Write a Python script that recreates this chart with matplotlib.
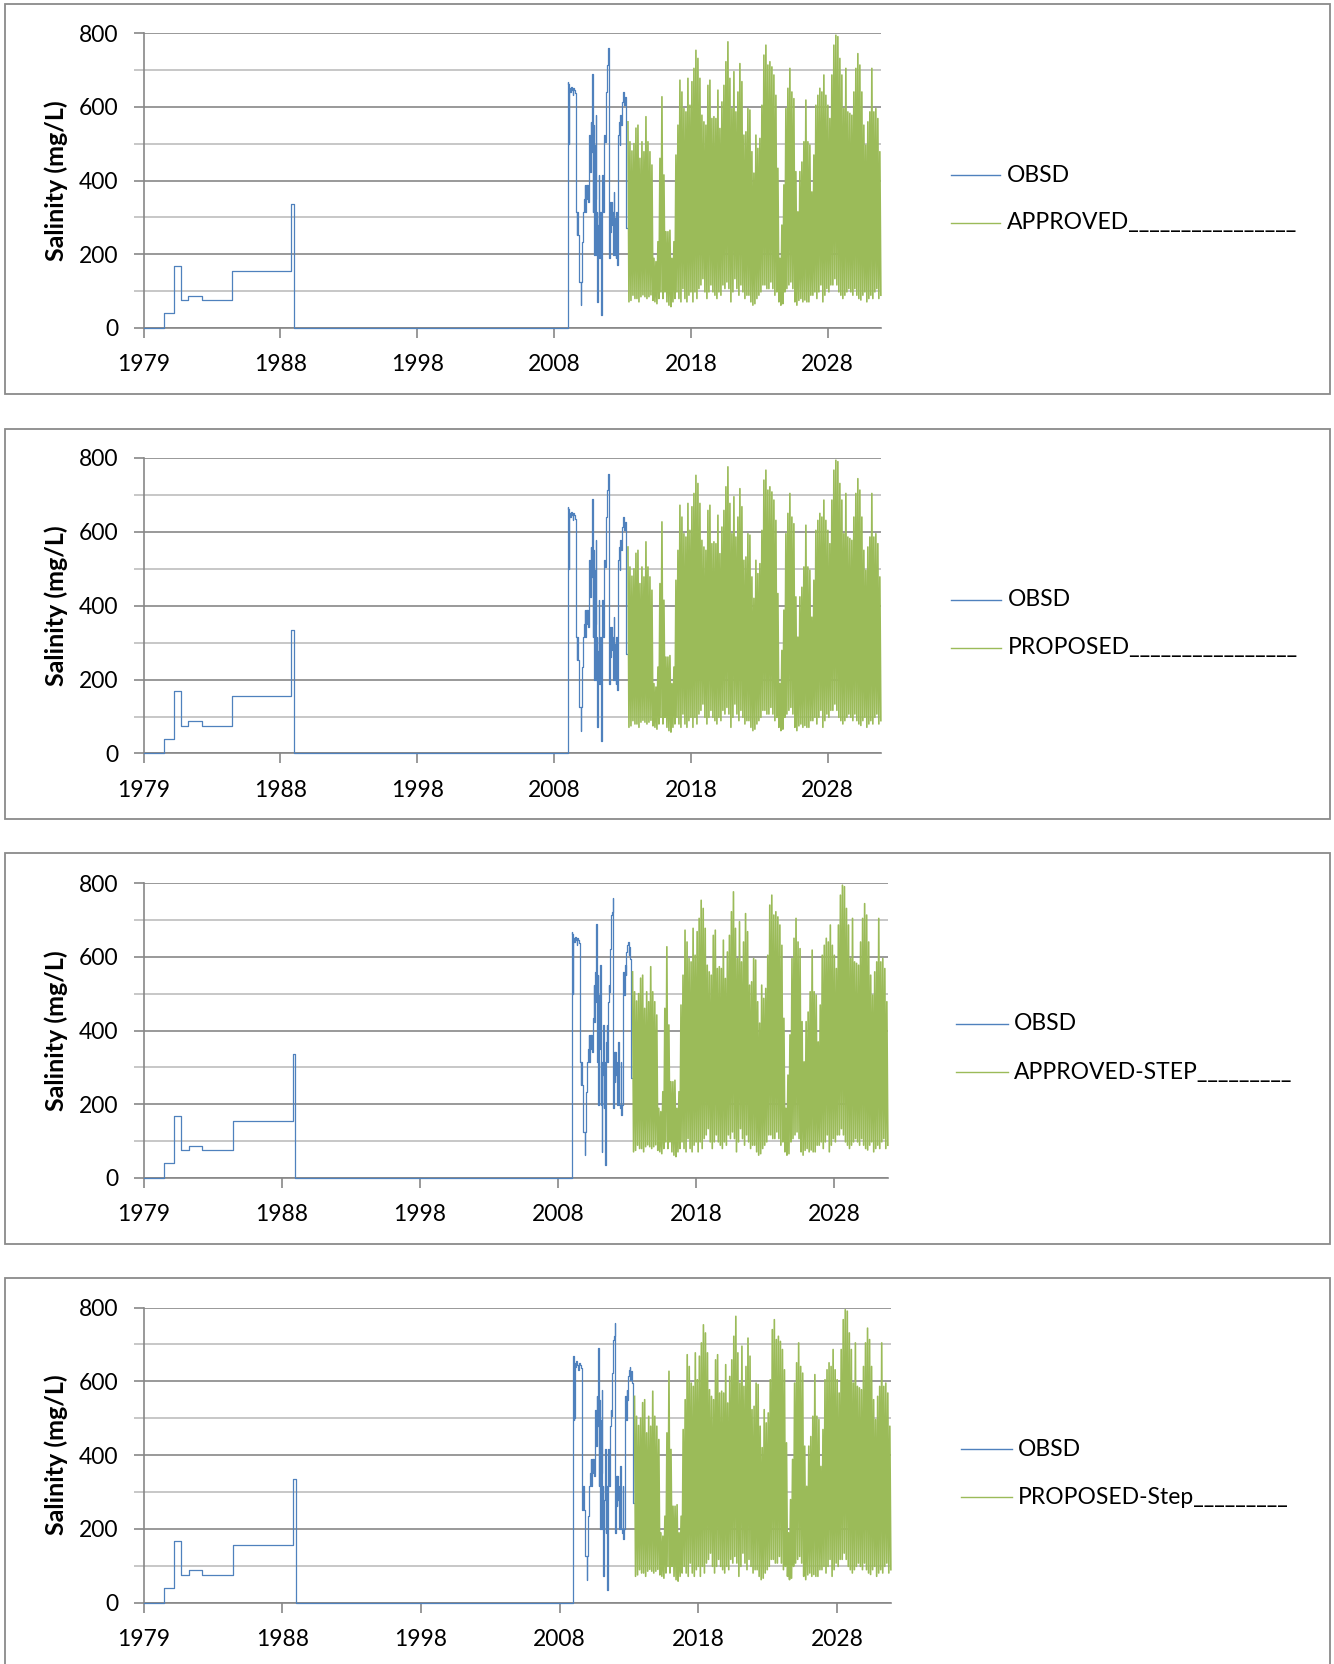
import matplotlib
matplotlib.use("Agg")
import matplotlib.pyplot as plt
from matplotlib.lines import Line2D
from matplotlib.patches import Rectangle

plt.rcParams['font.family'] = ['Lato', 'DejaVu Sans']

# ---------------- data ----------------
x_tick_labels = ["1979", "1988", "1998", "2008", "2018", "2028"]
x_tick_interval = 3650 / 365.25      # Excel date axis: major unit 3650 days
x_start = 1979.0
x_end = 2032.86
y_major_ticks = [0, 200, 400, 600, 800]
y_minor_ticks = [100, 300, 500, 700]

# observed salinity (step series)
obsd_years = [
    1979.00, 1980.50, 1981.22, 1981.71, 1982.27, 1983.25, 1985.47, 1989.78, 1989.97,
    2009.97, 2010.00, 2010.02, 2010.05, 2010.07, 2010.12, 2010.19, 2010.27, 2010.34,
    2010.39, 2010.46, 2010.53, 2010.56, 2010.61, 2010.63, 2010.68, 2010.73, 2010.78,
    2010.83, 2010.87, 2010.92, 2010.97, 2011.02, 2011.09, 2011.17, 2011.22, 2011.26,
    2011.31, 2011.36, 2011.41, 2011.46, 2011.51, 2011.56, 2011.60, 2011.65, 2011.70,
    2011.75, 2011.77, 2011.80, 2011.85, 2011.90, 2011.95, 2011.99, 2012.02, 2012.07,
    2012.12, 2012.14, 2012.19, 2012.24, 2012.29, 2012.33, 2012.38, 2012.41, 2012.46,
    2012.50, 2012.55, 2012.60, 2012.65, 2012.70, 2012.75, 2012.80, 2012.85, 2012.89,
    2012.94, 2012.99, 2013.04, 2013.09, 2013.14, 2013.19, 2013.23, 2013.28, 2013.33,
    2013.38, 2013.43, 2013.48, 2013.53, 2013.58, 2013.62, 2013.67, 2013.72, 2013.77,
    2013.82, 2013.87, 2013.94, 2013.99, 2014.04, 2014.09, 2014.14, 2014.21, 2014.26,
    2014.40,
]
obsd_values = [
    0, 40, 168, 75, 87, 75, 155, 335, 0,
    668, 496, 663, 500, 650, 640, 654, 645, 631,
    650, 645, 636, 369, 315, 252, 315, 252, 220,
    126, 126, 62, 126, 234, 315, 351, 388, 315,
    388, 351, 388, 342, 433, 523, 424, 559, 478,
    550, 690, 315, 550, 198, 496, 351, 577, 198,
    315, 71, 278, 415, 189, 315, 198, 35, 369,
    415, 315, 478, 523, 505, 622, 640, 713, 722,
    758, 189, 342, 261, 342, 279, 315, 198, 369,
    297, 198, 189, 315, 171, 198, 523, 559, 496,
    577, 550, 613, 631, 640, 604, 627, 595, 270,
    270,
]

# simulated scenario salinity (same in all four panels), sampled every ~27 days
scenario_start = 2014.38
scenario_step = 0.073
scenario_values = [
    559, 71, 505, 75, 480, 89, 500, 80, 542, 80, 550, 71, 460, 85, 505, 90,
    478, 85, 573, 80, 505, 85, 478, 90, 442, 75, 189, 71, 180, 66, 234, 80,
    460, 98, 627, 80, 415, 98, 261, 71, 261, 62, 265, 58, 189, 71, 234, 80,
    469, 98, 550, 80, 672, 71, 640, 107, 595, 80, 586, 71, 677, 89, 604, 98,
    668, 71, 704, 98, 753, 80, 731, 107, 677, 117, 577, 134, 559, 98, 550, 80,
    658, 98, 672, 117, 568, 98, 573, 89, 568, 80, 645, 98, 541, 89, 613, 117,
    658, 107, 722, 125, 776, 107, 677, 71, 595, 98, 695, 134, 586, 107, 640, 89,
    717, 117, 668, 98, 523, 80, 532, 89, 595, 89, 591, 71, 478, 62, 420, 66,
    523, 80, 487, 89, 514, 98, 604, 117, 740, 117, 767, 107, 713, 107, 722, 125,
    708, 107, 686, 89, 631, 98, 433, 71, 189, 62, 279, 66, 388, 98, 595, 107,
    650, 117, 704, 125, 640, 107, 622, 71, 424, 62, 315, 75, 424, 80, 450, 71,
    505, 76, 618, 71, 505, 71, 496, 89, 369, 89, 469, 98, 604, 80, 631, 98,
    650, 117, 640, 71, 686, 89, 631, 107, 604, 98, 568, 117, 686, 117, 767, 134,
    794, 117, 790, 98, 731, 89, 686, 80, 595, 89, 704, 98, 586, 107, 582, 98,
    577, 89, 640, 107, 704, 89, 744, 80, 713, 76, 640, 89, 550, 98, 496, 71,
    559, 80, 586, 89, 704, 80, 586, 98, 595, 107, 568, 80, 478, 89,
]

obsd_label = "OBSD"
scenario_labels = [
    "APPROVED________________",
    "PROPOSED________________",
    "APPROVED-STEP_________",
    "PROPOSED-Step_________",
]

# ---------------- styling / layout ----------------
W, H = 1334, 1664
BLUE = '#4F81BD'
GREEN = '#9BBB59'
MAJOR_GRID = '#878787'
MINOR_GRID = '#BEBEBE'
BORDER = '#8A8A8A'
FS = 16.5

# (left, right, top, bottom) of plot areas in pixels; panel box; legend x positions
panels = [
    dict(plot=(143.5, 881, 33, 328), box=(4.5, 1330, 4, 394), leg=(951, 1000, 1007)),
    dict(plot=(143.5, 881, 458, 753.5), box=(4.5, 1330, 429, 819), leg=(951, 1001, 1008)),
    dict(plot=(143.5, 888, 883, 1178), box=(4.5, 1330, 853, 1244), leg=(956, 1008, 1014)),
    dict(plot=(143.5, 891, 1307.5, 1602.5), box=(4.5, 1330, 1278, 1670), leg=(961, 1012, 1018)),
]

fig = plt.figure(figsize=(W / 100, H / 100), dpi=100)

scenario_years = [scenario_start + i * scenario_step for i in range(len(scenario_values))]
x_ticks = [x_start + k * x_tick_interval for k in range(len(x_tick_labels))]

for p, slabel in zip(panels, scenario_labels):
    l, r, t, b = p['plot']
    bx0, bx1, by0, by1 = p['box']
    fig.add_artist(Rectangle((bx0 / W, 1 - by1 / H), (bx1 - bx0) / W, (by1 - by0) / H,
                             transform=fig.transFigure, fill=False, ec=BORDER, lw=1.3))
    ax = fig.add_axes([l / W, 1 - b / H, (r - l) / W, (b - t) / H])
    ax.set_xlim(x_start, x_end)
    ax.set_ylim(0, 800)
    ax.set_axisbelow(True)
    ax.plot(obsd_years, obsd_values, drawstyle='steps-post', color=BLUE, lw=0.9,
            clip_on=False, zorder=3)
    ax.plot(scenario_years, scenario_values, color=GREEN, lw=1.2, clip_on=False, zorder=4)

    ax.set_yticks(y_major_ticks)
    ax.set_yticks(y_minor_ticks, minor=True)
    ax.set_xticks(x_ticks)
    ax.set_xticklabels(x_tick_labels)
    ax.grid(which='major', axis='y', color=MAJOR_GRID, lw=1.2)
    ax.grid(which='minor', axis='y', color=MINOR_GRID, lw=1.2)
    ax.grid(which='major', axis='x', visible=False)
    for s in ('top', 'right'):
        ax.spines[s].set_visible(False)
    for s in ('left', 'bottom'):
        ax.spines[s].set_color(MAJOR_GRID)
        ax.spines[s].set_linewidth(1.2)
    ax.tick_params(axis='y', which='major', length=7, width=1.2, color=MAJOR_GRID,
                   pad=11, labelsize=FS)
    ax.tick_params(axis='y', which='minor', length=7, width=1.2, color=MINOR_GRID)
    ax.tick_params(axis='x', which='major', length=7, width=1.2, color=MAJOR_GRID,
                   pad=12, labelsize=FS)
    ax.patch.set_alpha(0)

    fig.text(56 / W, 1 - ((t + b) / 2) / H, 'Salinity (mg/L)', rotation=90,
             ha='center', va='center', fontsize=18, fontweight='bold')

    lx0, lx1, tx = p['leg']
    for dy, col, lab in ((171, BLUE, obsd_label), (219, GREEN, slabel)):
        yy = 1 - (by0 + dy) / H
        fig.add_artist(Line2D([lx0 / W, lx1 / W], [yy, yy], transform=fig.transFigure,
                              color=col, lw=1.0))
        fig.text(tx / W, yy, lab, ha='left', va='center', fontsize=FS)

fig.savefig('out.png', dpi=100)
